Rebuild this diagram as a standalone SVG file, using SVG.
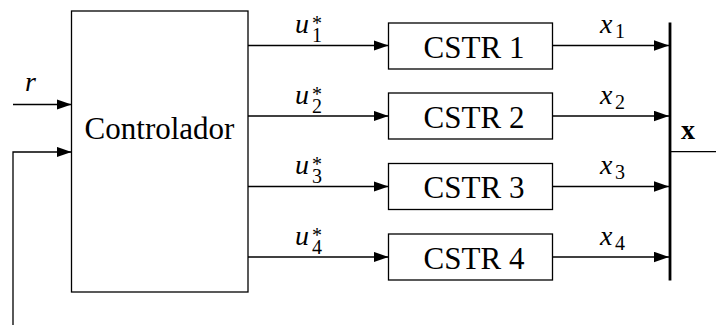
<svg xmlns="http://www.w3.org/2000/svg" width="716" height="325" viewBox="0 0 716 325">
  <style>
    .box { fill: #ffffff; stroke: #000000; stroke-width: 1.3; }
    .wire { fill: none; stroke: #000000; stroke-width: 1.3; }
    .bus { fill: none; stroke: #000000; stroke-width: 2.8; }
  </style>
  <defs>
    <marker id="arrow" markerUnits="userSpaceOnUse" markerWidth="16" markerHeight="11" refX="15" refY="5.25" orient="auto">
      <path d="M0,0 L15,5.25 L0,10.5 Z" fill="#000000"/>
    </marker>
  </defs>

  <!-- controller block -->
  <g id="controlador">
    <rect class="box" x="71.5" y="11" width="176.5" height="281"/>
    <text x="159.5" y="138.5" text-anchor="middle" style="font-family:'Liberation Serif';font-size:31px">Controlador</text>
  </g>

  <!-- reactor blocks -->
  <g id="cstr1">
    <rect class="box" x="388.5" y="23" width="164" height="46"/>
    <text x="474" y="57.5" text-anchor="middle" style="font-family:'Liberation Serif';font-size:31px">CSTR 1</text>
  </g>
  <g id="cstr2">
    <rect class="box" x="388.5" y="93" width="164" height="46"/>
    <text x="474" y="127.5" text-anchor="middle" style="font-family:'Liberation Serif';font-size:31px">CSTR 2</text>
  </g>
  <g id="cstr3">
    <rect class="box" x="388.5" y="163.5" width="164" height="46"/>
    <text x="474" y="198" text-anchor="middle" style="font-family:'Liberation Serif';font-size:31px">CSTR 3</text>
  </g>
  <g id="cstr4">
    <rect class="box" x="388.5" y="234" width="164" height="46"/>
    <text x="474" y="268.5" text-anchor="middle" style="font-family:'Liberation Serif';font-size:31px">CSTR 4</text>
  </g>

  <!-- state bus collecting the reactor outputs -->
  <g id="bus">
    <line class="bus" x1="670" y1="22.5" x2="670" y2="280.5"/>
  </g>

  <!-- signal lines -->
  <g id="connectors">
    <line class="wire" x1="13" y1="104.5" x2="71.5" y2="104.5" marker-end="url(#arrow)"/>
    <polyline class="wire" points="13,325 13,152 71.5,152" marker-end="url(#arrow)"/>

    <line class="wire" x1="248" y1="45.5" x2="388.5" y2="45.5" marker-end="url(#arrow)"/>
    <line class="wire" x1="248" y1="116" x2="388.5" y2="116" marker-end="url(#arrow)"/>
    <line class="wire" x1="248" y1="186.5" x2="388.5" y2="186.5" marker-end="url(#arrow)"/>
    <line class="wire" x1="248" y1="257" x2="388.5" y2="257" marker-end="url(#arrow)"/>

    <line class="wire" x1="552.5" y1="45.5" x2="669" y2="45.5" marker-end="url(#arrow)"/>
    <line class="wire" x1="552.5" y1="116" x2="669" y2="116" marker-end="url(#arrow)"/>
    <line class="wire" x1="552.5" y1="186.5" x2="669" y2="186.5" marker-end="url(#arrow)"/>
    <line class="wire" x1="552.5" y1="257" x2="669" y2="257" marker-end="url(#arrow)"/>

    <line class="wire" x1="670" y1="151.7" x2="716" y2="151.7"/>
  </g>

  <!-- signal labels -->
  <g id="labels">
    <text x="25" y="90.5" style="font-family:'Liberation Serif';font-size:28px;font-style:italic">r</text>

    <text x="295" y="33.2" style="font-family:'Liberation Serif';font-size:28px;font-style:italic">u<tspan x="312" y="30" style="font-size:20px;font-style:normal">*</tspan><tspan x="312" y="42.2" style="font-size:20px;font-style:normal">1</tspan></text>
    <text x="295" y="103.7" style="font-family:'Liberation Serif';font-size:28px;font-style:italic">u<tspan x="312" y="100.5" style="font-size:20px;font-style:normal">*</tspan><tspan x="312" y="112.7" style="font-size:20px;font-style:normal">2</tspan></text>
    <text x="295" y="174.2" style="font-family:'Liberation Serif';font-size:28px;font-style:italic">u<tspan x="312" y="171" style="font-size:20px;font-style:normal">*</tspan><tspan x="312" y="183.2" style="font-size:20px;font-style:normal">3</tspan></text>
    <text x="295" y="244.7" style="font-family:'Liberation Serif';font-size:28px;font-style:italic">u<tspan x="312" y="241.5" style="font-size:20px;font-style:normal">*</tspan><tspan x="312" y="253.7" style="font-size:20px;font-style:normal">4</tspan></text>

    <text x="600" y="33.2" style="font-family:'Liberation Serif';font-size:28px;font-style:italic">x<tspan x="615" y="38.3" style="font-size:20px;font-style:normal">1</tspan></text>
    <text x="600" y="103.7" style="font-family:'Liberation Serif';font-size:28px;font-style:italic">x<tspan x="615" y="108.8" style="font-size:20px;font-style:normal">2</tspan></text>
    <text x="600" y="174.2" style="font-family:'Liberation Serif';font-size:28px;font-style:italic">x<tspan x="615" y="179.3" style="font-size:20px;font-style:normal">3</tspan></text>
    <text x="600" y="244.7" style="font-family:'Liberation Serif';font-size:28px;font-style:italic">x<tspan x="615" y="249.8" style="font-size:20px;font-style:normal">4</tspan></text>

    <text x="681" y="138.5" style="font-family:'Liberation Serif';font-size:28px;font-weight:bold">x</text>
  </g>
</svg>
